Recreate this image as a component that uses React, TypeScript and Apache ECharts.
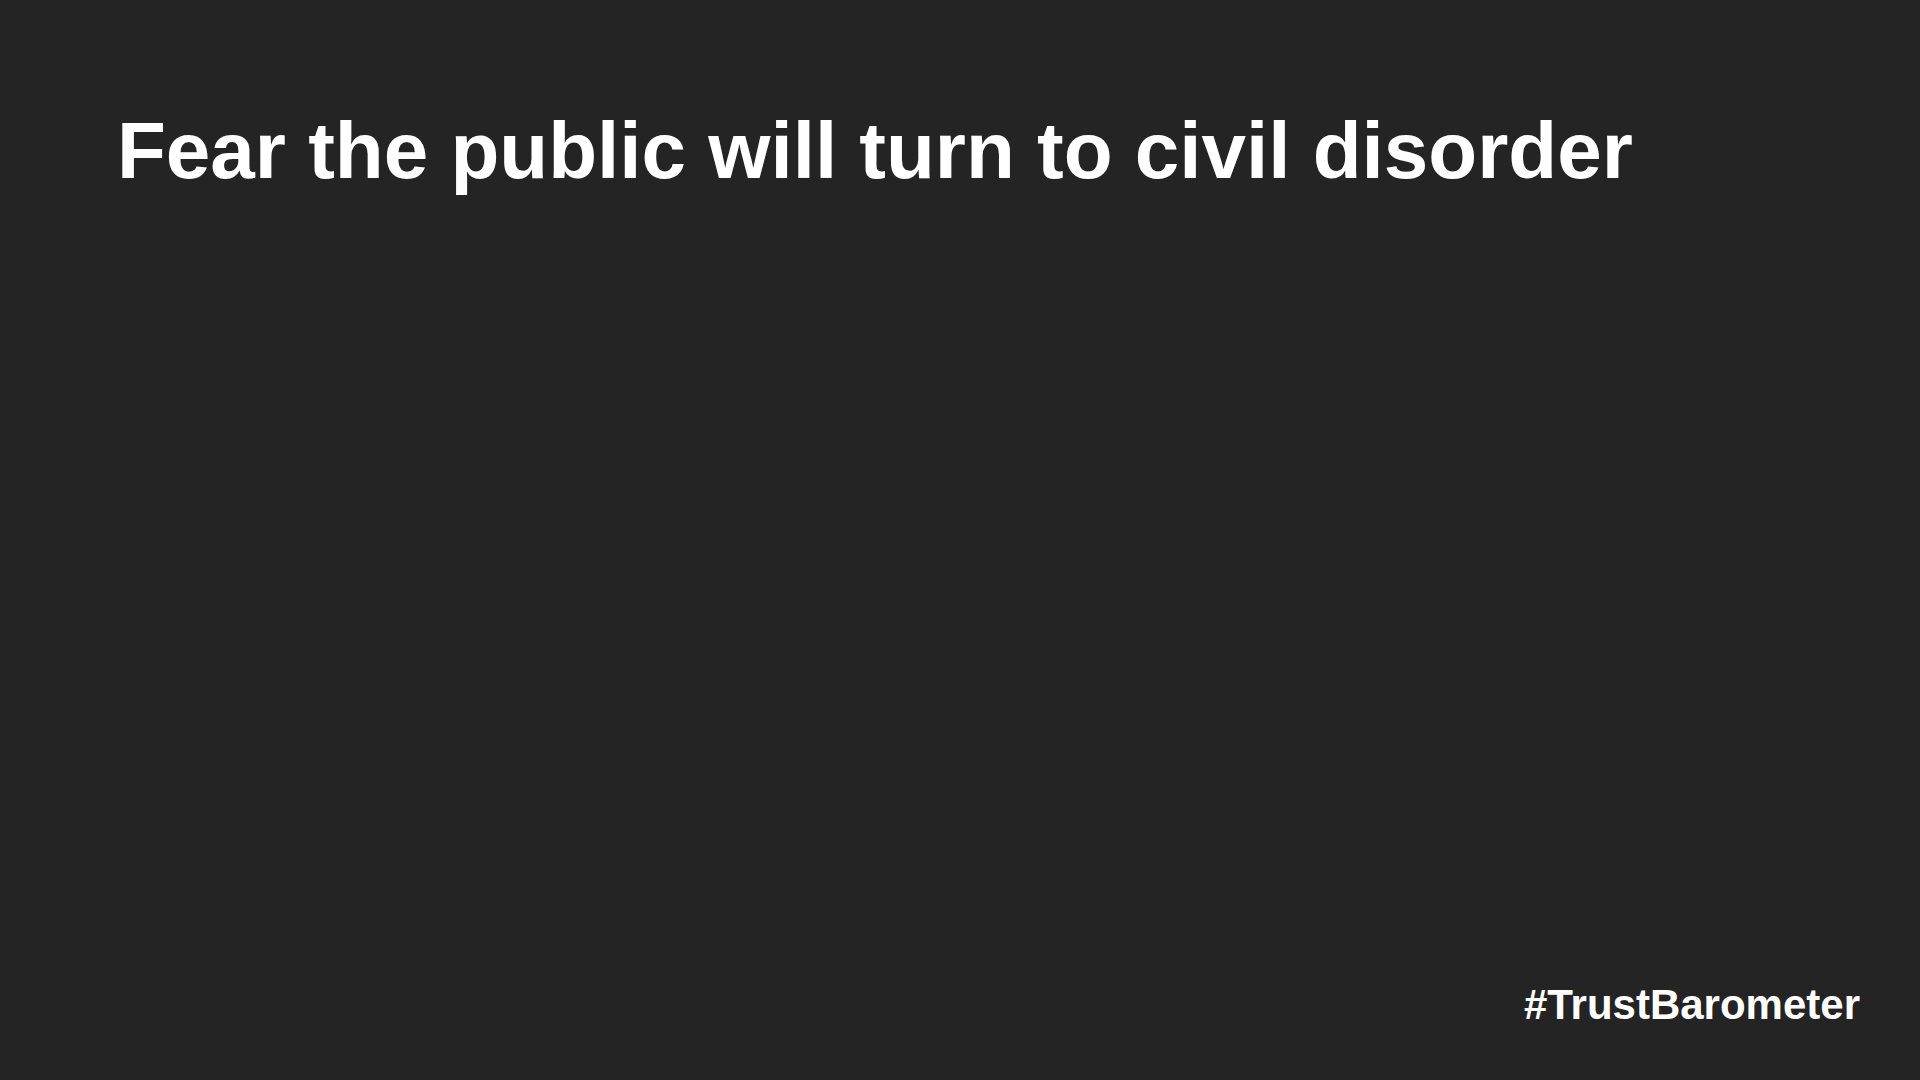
import React, { useEffect, useRef } from "react";
import * as echarts from "echarts";

// texts shown on the slide (the chart area itself is empty)
const titleText = "Fear the public will turn to civil disorder";
const hashtagText = "#TrustBarometer";

const bgColor = "#242424";
const textColor = "#ffffff";
const fontFamily = "'Liberation Sans', Arial, Helvetica, sans-serif";

const App = () => {
  const chartRef = useRef<HTMLDivElement>(null);

  useEffect(() => {
    if (!chartRef.current) return;
    const chart = echarts.init(chartRef.current, null, { renderer: "svg" });

    const option = {
      animation: false,
      backgroundColor: bgColor,
      graphic: [
        {
          type: "text",
          left: 117,
          top: 110,
          style: {
            text: titleText,
            fill: textColor,
            font: `bold 80px ${fontFamily}`,
          },
        },
        {
          type: "text",
          right: 60,
          top: 983,
          style: {
            text: hashtagText,
            fill: textColor,
            font: `bold 42px ${fontFamily}`,
          },
        },
      ],
    };

    chart.setOption(option);

    return () => {
      chart.dispose();
    };
  }, []);

  return (
    <div
      ref={chartRef}
      style={{ position: "fixed", left: 0, top: 0, width: "1920px", height: "1080px" }}
    ></div>
  );
};

export default App;
